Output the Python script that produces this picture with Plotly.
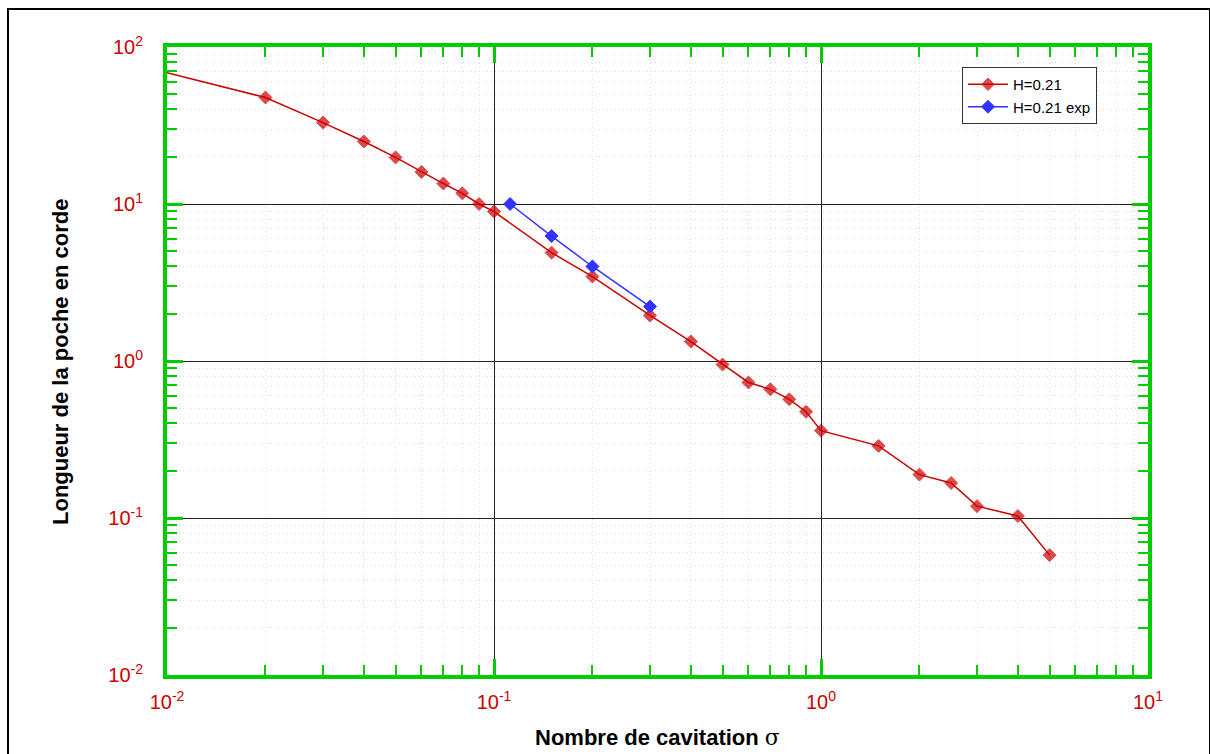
import plotly.graph_objects as go

# ---- data ----
sigma_calc = [0.01, 0.02, 0.03, 0.04, 0.05, 0.06, 0.07, 0.08, 0.09, 0.1, 0.15, 0.2, 0.3,
              0.4, 0.5, 0.6, 0.7, 0.8, 0.9, 1.0, 1.5, 2.0, 2.5, 3.0, 4.0, 5.0]
length_calc = [68.5, 47.7, 33.0, 25.0, 19.8, 16.0, 13.5, 11.7, 10.0, 8.95, 4.9, 3.45, 1.95,
               1.33, 0.95, 0.73, 0.66, 0.57, 0.475, 0.36, 0.288, 0.189, 0.167, 0.119, 0.103, 0.058]
sigma_exp = [0.112, 0.15, 0.2, 0.3]
length_exp = [10.0, 6.25, 4.0, 2.22]

name_calc = "H=0.21"
name_exp = "H=0.21 exp"

x_tickvals = [0.01, 0.1, 1, 10]
x_ticktext = ["10<sup>-2</sup>", "10<sup>-1</sup>", "10<sup>0</sup>", "10<sup>1</sup>"]
y_tickvals = [0.01, 0.1, 1, 10, 100]
y_ticktext = ["10<sup>-2</sup>", "10<sup>-1</sup>", "10<sup>0</sup>", "10<sup>1</sup>", "10<sup>2</sup>"]

x_title = "<b>Nombre de cavitation</b> <span style='font-family:DejaVu Serif'>σ</span>"
y_title = "<b>Longueur de la poche en corde</b>"

# ---- style ----
RED = "#CC0000"
BLUE = "#3333FF"
GREEN = "#00CC00"
FONT = "Arial, Liberation Sans, sans-serif"


def minor_vals(d0, d1):
    return [k * 10.0 ** d for d in range(d0, d1) for k in range(2, 10)]


fig = go.Figure()
fig.add_trace(go.Scatter(
    x=sigma_calc, y=length_calc, name=name_calc, mode="lines+markers",
    line=dict(color=RED, width=1.5),
    marker=dict(symbol="diamond", size=[0] + [10] * (len(sigma_calc) - 1), color=RED,
                line=dict(width=1, color=RED)),
))
fig.add_trace(go.Scatter(
    x=sigma_exp, y=length_exp, name=name_exp, mode="lines+markers",
    line=dict(color=BLUE, width=1.5),
    marker=dict(symbol="diamond", size=10, color=BLUE, line=dict(width=1, color=BLUE)),
))

axis_common = dict(
    type="log",
    showline=True, linecolor=GREEN, linewidth=4, mirror="allticks",
    ticks="inside", ticklen=16, tickwidth=3, tickcolor=GREEN,
    showgrid=True, gridcolor="#222222", gridwidth=1,
    zeroline=False,
    tickfont=dict(family=FONT, size=20, color=RED),
)

fig.update_xaxes(**axis_common, range=[-2, 1], tickvals=x_tickvals, ticktext=x_ticktext,
                 ticklabelstandoff=6,
                 minor=dict(tickvals=minor_vals(-2, 1), ticks="inside", ticklen=10, tickwidth=2,
                            tickcolor=GREEN, showgrid=True, gridcolor="#DCDCDC", gridwidth=1,
                            griddash="1px,3px"))
fig.update_yaxes(**axis_common, range=[-2, 2], tickvals=y_tickvals, ticktext=y_ticktext,
                 ticklabelstandoff=16,
                 minor=dict(tickvals=minor_vals(-2, 2), ticks="inside", ticklen=10, tickwidth=2,
                            tickcolor=GREEN, showgrid=True, gridcolor="#DCDCDC", gridwidth=1,
                            griddash="1px,3px"))

L, R, T, B = 167, 62, 47, 79
W, H = 1210, 754
pw = W - L - R
ph = H - T - B


def px2paper_x(px):
    return (px - L) / pw


def px2paper_y(py):
    return (H - B - py) / ph


fig.update_layout(
    width=W, height=H,
    margin=dict(l=L, r=R, t=T, b=B),
    paper_bgcolor="white", plot_bgcolor="white",
    font=dict(family=FONT, color="black"),
    showlegend=True,
    legend=dict(
        x=px2paper_x(962), y=px2paper_y(67), xanchor="left", yanchor="top",
        bgcolor="white", bordercolor="#333333", borderwidth=1,
        font=dict(family=FONT, size=15, color="black"),
        tracegroupgap=0, itemwidth=40,
    ),
    annotations=[
        dict(text=x_title, xref="paper", yref="paper", x=px2paper_x(657), y=px2paper_y(737),
             xanchor="center", yanchor="middle", showarrow=False,
             font=dict(family=FONT, size=22, color="black")),
        dict(text=y_title, xref="paper", yref="paper", x=px2paper_x(60), y=px2paper_y(362),
             xanchor="center", yanchor="middle", showarrow=False, textangle=-90,
             font=dict(family=FONT, size=22, color="black")),
    ],
    shapes=[
        dict(type="rect", xref="paper", yref="paper",
             x0=px2paper_x(8), x1=px2paper_x(1210), y0=px2paper_y(770), y1=px2paper_y(9),
             line=dict(color="black", width=2), fillcolor="rgba(0,0,0,0)", layer="below"),
    ],
)

fig.write_html("out.html")
